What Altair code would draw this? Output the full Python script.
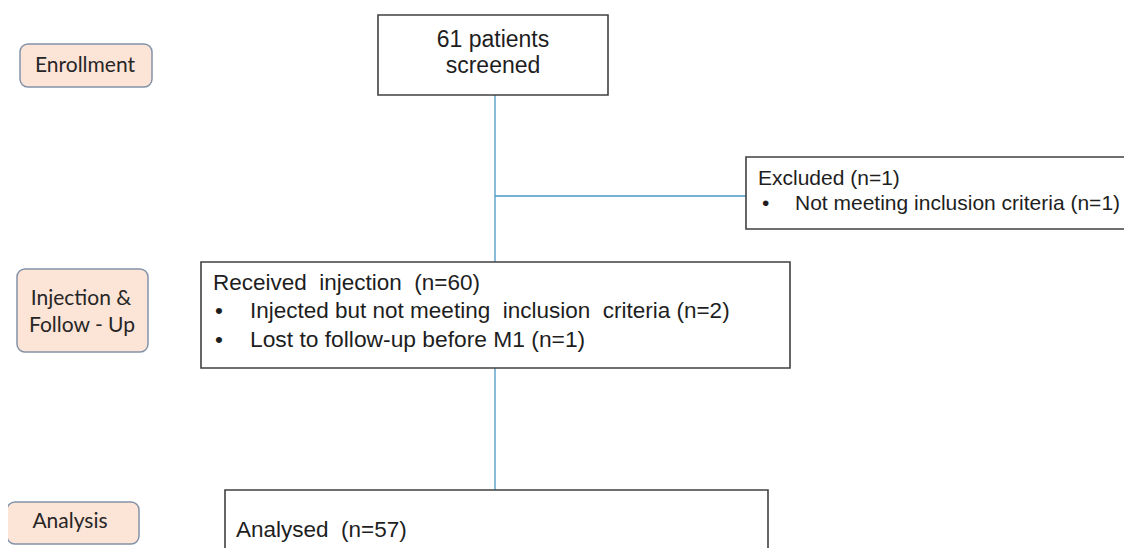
import altair as alt
import pandas as pd

# ---- text content ----
stage_labels = ["Enrollment", "Injection &", "Follow - Up", "Analysis"]
screen_lines = ["61 patients", "screened"]
excluded_lines = ["Excluded (n=1)", "Not meeting inclusion criteria (n=1)"]
received_lines = ["Received\u00a0 injection\u00a0 (n=60)",
                  "Injected but not meeting\u00a0 inclusion\u00a0 criteria (n=2)",
                  "Lost to follow-up before M1 (n=1)"]
analysed_lines = ["Analysed\u00a0 (n=57)"]

# ---- layout (reference pixel frame) ----
stage_box_x0 = [20, 17, 7]
stage_box_x1 = [152, 148, 139]
stage_box_y0 = [44, 269, 502]
stage_box_y1 = [87, 352, 544]
stage_text_x = [85, 81, 82, 70]
stage_text_y = [72, 305, 332, 528]

flow_box_x0 = [378, 746, 201, 225]
flow_box_x1 = [608, 1140, 790, 768]
flow_box_y0 = [15, 157, 262, 490]
flow_box_y1 = [95, 229, 368, 580]

link_x0 = [495, 495, 495]
link_x1 = [495, 746, 495]
link_y0 = [95, 196, 368]
link_y1 = [262, 196, 490]

xs = alt.Scale(domain=[8, 1124], nice=False, zero=False)
ys = alt.Scale(domain=[8, 548], reverse=True, nice=False, zero=False)

stage_boxes = pd.DataFrame({"x0": stage_box_x0, "x1": stage_box_x1,
                            "y0": stage_box_y0, "y1": stage_box_y1})
stage_text = pd.DataFrame({"t": stage_labels, "x": stage_text_x, "y": stage_text_y})
flow_boxes = pd.DataFrame({"x0": flow_box_x0, "x1": flow_box_x1,
                           "y0": flow_box_y0, "y1": flow_box_y1})
links = pd.DataFrame({"x0": link_x0, "x1": link_x1, "y0": link_y0, "y1": link_y1})

center_text = pd.DataFrame({"t": screen_lines, "x": [493, 493], "y": [47, 73]})
left_text = pd.DataFrame({
    "t": [excluded_lines[0], excluded_lines[1],
          received_lines[0], received_lines[1], received_lines[2],
          analysed_lines[0]],
    "x": [758, 795, 213, 250, 250, 236],
    "y": [185, 210, 290, 318, 347, 537],
    "fs": [21, 21, 22.5, 22.5, 22.8, 22.5],
})
bullets = pd.DataFrame({"t": ["•", "•", "•"], "x": [762, 215, 215],
                        "y": [210, 318, 347], "fs": [21, 22.5, 22.5]})

def rect_enc():
    return dict(x=alt.X("x0:Q", scale=xs, axis=None), x2="x1:Q",
                y=alt.Y("y0:Q", scale=ys, axis=None), y2="y1:Q")

stage_rects = alt.Chart(stage_boxes).mark_rect(
    fill="#FCE4D6", stroke="#8292A8", strokeWidth=1.5, cornerRadius=8
).encode(**rect_enc())

flow_rects = alt.Chart(flow_boxes).mark_rect(
    fill="white", stroke="#404040", strokeWidth=1.6, clip=True
).encode(**rect_enc())

link_rules = alt.Chart(links).mark_rule(color="#4A98C6", strokeWidth=1.3).encode(
    x=alt.X("x0:Q", scale=xs, axis=None), x2="x1:Q",
    y=alt.Y("y0:Q", scale=ys, axis=None), y2="y1:Q")

stage_txt = alt.Chart(stage_text).mark_text(
    font="Lato", fontSize=21, align="center", baseline="alphabetic", color="#262626"
).encode(x=alt.X("x:Q", scale=xs, axis=None), y=alt.Y("y:Q", scale=ys, axis=None), text="t:N")

center_txt = alt.Chart(center_text).mark_text(
    font="Liberation Sans", fontSize=23, align="center", baseline="alphabetic", color="#1E1E1E"
).encode(x=alt.X("x:Q", scale=xs, axis=None), y=alt.Y("y:Q", scale=ys, axis=None), text="t:N")

left_txt = alt.Chart(left_text).mark_text(
    font="Liberation Sans", align="left", baseline="alphabetic", color="#1E1E1E"
).encode(x=alt.X("x:Q", scale=xs, axis=None), y=alt.Y("y:Q", scale=ys, axis=None),
         text="t:N", size=alt.Size("fs:Q", scale=None, legend=None))

bullet_txt = alt.Chart(bullets).mark_text(
    font="Liberation Sans", align="left", baseline="alphabetic", color="#1E1E1E"
).encode(x=alt.X("x:Q", scale=xs, axis=None), y=alt.Y("y:Q", scale=ys, axis=None),
         text="t:N", size=alt.Size("fs:Q", scale=None, legend=None))

chart = alt.layer(link_rules, flow_rects, stage_rects, stage_txt, center_txt, left_txt, bullet_txt).properties(
    width=1116, height=540, padding=0, autosize="none", background="white"
).configure_view(stroke=None)

chart.save("out.html", embed_options={"renderer": "svg", "actions": False})
